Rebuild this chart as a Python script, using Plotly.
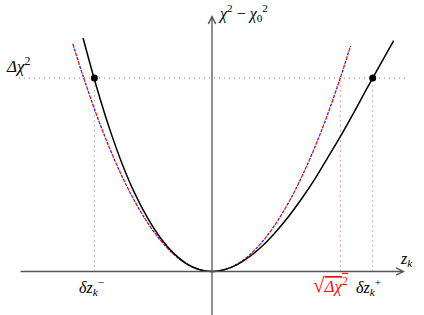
import plotly.graph_objects as go

# ---- data (units: z in sqrt(Δχ²) units, y in Δχ² units) ----
para_z = [-1.085, -1.0, -0.9, -0.8, -0.7, -0.6, -0.5, -0.4, -0.3, -0.2, -0.1, 0.0,
          0.1, 0.2, 0.3, 0.4, 0.5, 0.6, 0.7, 0.8, 0.9, 1.0, 1.08]
para_y = [1.177, 1.0, 0.81, 0.64, 0.49, 0.36, 0.25, 0.16, 0.09, 0.04, 0.01, 0.0,
          0.01, 0.04, 0.09, 0.16, 0.25, 0.36, 0.49, 0.64, 0.81, 1.0, 1.166]

black_z = [-1.005, -0.9, -0.8, -0.7, -0.6, -0.5, -0.4, -0.3, -0.2, -0.1, 0.0,
           0.1, 0.2, 0.3, 0.4, 0.5, 0.6, 0.7, 0.8, 0.9, 1.0, 1.1, 1.2, 1.3, 1.416]
black_y = [1.207, 0.955, 0.741, 0.556, 0.401, 0.274, 0.172, 0.095, 0.041, 0.010, 0.0,
           0.010, 0.037, 0.080, 0.137, 0.207, 0.287, 0.377, 0.476, 0.586, 0.697,
           0.815, 0.937, 1.056, 1.193]

delta_chi2 = 1.0
sqrt_delta_chi2 = 1.0
dz_minus = -0.917
dz_plus = 1.2525

x_range = [-1.6524, 1.6524]
y_range = [-0.2248, 1.4031]
axis_x_ends = [-1.504, 1.504]
axis_y_top = 1.3256

serif = "Liberation Serif, Times New Roman, serif"
axis_col = "#555555"
dot_col = "#777777"

fig = go.Figure()

# guide lines
fig.add_trace(go.Scatter(x=axis_x_ends, y=[delta_chi2, delta_chi2], mode="lines",
                         line=dict(color=dot_col, width=1, dash="1px,4px"),
                         hoverinfo="skip"))
for xv in (dz_minus, dz_plus):
    fig.add_trace(go.Scatter(x=[xv, xv], y=[0, delta_chi2], mode="lines",
                             line=dict(color=dot_col, width=1, dash="1px,4px"),
                             hoverinfo="skip"))
fig.add_trace(go.Scatter(x=[sqrt_delta_chi2, sqrt_delta_chi2], y=[0, delta_chi2], mode="lines",
                         line=dict(color="#ee3333", width=1, dash="1px,4px"),
                         hoverinfo="skip"))

# curves
fig.add_trace(go.Scatter(x=para_z, y=para_y, mode="lines", line_shape="spline",
                         line=dict(color="#1f1fff", width=1.3, dash="0px,5px,3px,1px"),
                         hoverinfo="skip"))
fig.add_trace(go.Scatter(x=para_z, y=para_y, mode="lines", line_shape="spline",
                         line=dict(color="#ee1111", width=1.3, dash="4px,5px"),
                         hoverinfo="skip"))
fig.add_trace(go.Scatter(x=black_z, y=black_y, mode="lines", line_shape="spline",
                         line=dict(color="black", width=1.5), hoverinfo="skip"))
fig.add_trace(go.Scatter(x=[dz_minus, dz_plus], y=[delta_chi2, delta_chi2], mode="markers",
                         marker=dict(color="black", size=7), hoverinfo="skip"))

annotations = [
    # axes with arrows
    dict(x=axis_x_ends[1], y=0, ax=axis_x_ends[0], ay=0, xref="x", yref="y",
         axref="x", ayref="y", text="", showarrow=True, arrowhead=5,
         arrowsize=1.1, arrowwidth=1.3, arrowcolor=axis_col),
    dict(x=0, y=axis_y_top, ax=0, ay=y_range[0] - 0.02, xref="x", yref="y",
         axref="x", ayref="y", text="", showarrow=True, arrowhead=5,
         arrowsize=1.1, arrowwidth=1.3, arrowcolor=axis_col),
    # labels
    dict(x=0.035, y=1.335, xref="x", yref="y", xanchor="left", yanchor="middle",
         text="<i>χ</i><sup>2</sup> − <i>χ</i><sub>0</sub><sup>2</sup>",
         showarrow=False, font=dict(family=serif, size=16, color="black")),
    dict(x=-1.625, y=1.067, xref="x", yref="y", xanchor="left", yanchor="middle",
         text="<i>Δχ</i><sup>2</sup>",
         showarrow=False, font=dict(family=serif, size=17, color="black")),
    dict(x=1.45, y=0.062, xref="x", yref="y", xanchor="left", yanchor="middle",
         text="<i>z<sub>k</sub></i>",
         showarrow=False, font=dict(family=serif, size=16, color="black")),
    dict(x=dz_minus - 0.02, y=-0.082, xref="x", yref="y", xanchor="center", yanchor="middle",
         text="<i>δz</i><sub><i>k</i></sub><sup>−</sup>",
         showarrow=False, font=dict(family=serif, size=16, color="black")),
    dict(x=dz_plus - 0.03, y=-0.082, xref="x", yref="y", xanchor="center", yanchor="middle",
         text="<i>δz</i><sub><i>k</i></sub><sup>+</sup>",
         showarrow=False, font=dict(family=serif, size=16, color="black")),
    dict(x=sqrt_delta_chi2 - 0.075, y=-0.072, xref="x", yref="y", xanchor="center", yanchor="middle",
         text="<span style='font-size:21px'>√</span><span style='text-decoration:overline'><i>Δχ</i><sup>2</sup></span>",
         showarrow=False, font=dict(family=serif, size=17, color="#ee1111")),
]

fig.update_layout(
    width=424, height=315,
    margin=dict(l=0, r=0, t=0, b=0),
    paper_bgcolor="white", plot_bgcolor="white",
    showlegend=False,
    xaxis=dict(range=x_range, visible=False, fixedrange=True),
    yaxis=dict(range=y_range, visible=False, fixedrange=True),
    annotations=annotations,
)

fig.write_html("out.html", config={"displayModeBar": False},
               post_script="document.body.style.margin='0';document.body.style.padding='0';")
